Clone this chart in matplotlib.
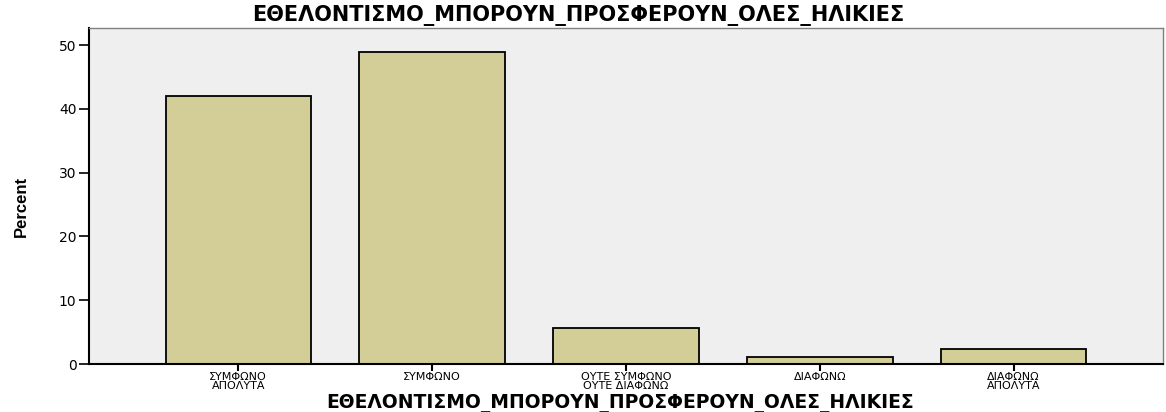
import matplotlib
matplotlib.use("Agg")
import matplotlib.pyplot as plt

categories = ["ΣΥΜΦΩΝΟ\nΑΠΟΛΥΤΑ", "ΣΥΜΦΩΝΟ", "ΟΥΤΕ ΣΥΜΦΩΝΟ\nΟΥΤΕ ΔΙΑΦΩΝΩ", "ΔΙΑΦΩΝΩ", "ΔΙΑΦΩΝΩ\nΑΠΟΛΥΤΑ"]
percent = [42.0, 48.9, 5.7, 1.1, 2.3]
yticks = [0, 10, 20, 30, 40, 50]
title = "ΕΘΕΛΟΝΤΙΣΜΟ_ΜΠΟΡΟΥΝ_ΠΡΟΣΦΕΡΟΥΝ_ΟΛΕΣ_ΗΛΙΚΙΕΣ"

fig = plt.figure(figsize=(11.66, 4.12), dpi=100)
ax = fig.add_axes([0.0763, 0.1165, 0.9211, 0.8155])
ax.set_facecolor("#efefef")

x = list(range(len(categories)))
ax.bar(x, percent, width=0.75, color="#d3ce97", edgecolor="black", linewidth=1.3, zorder=2)
ax.set_xlim(-0.77, 4.77)
ax.set_ylim(0, 52.7)
ax.set_yticks(yticks)
ax.set_yticklabels([str(t) for t in yticks], fontsize=10)
ax.set_xticks(x)
ax.set_xticklabels(categories, fontsize=8, linespacing=0.8)
ax.tick_params(axis="y", length=7, width=1.2, direction="out", pad=2)
ax.tick_params(axis="x", length=5, width=1.5, direction="out", pad=1)

for side in ("left", "bottom"):
    ax.spines[side].set_linewidth(1.5)
    ax.spines[side].set_color("black")
for side in ("top", "right"):
    ax.spines[side].set_linewidth(1.0)
    ax.spines[side].set_color("#808080")

fig.text(0.018, 0.5, "Percent", family=["Liberation Sans", "DejaVu Sans"],
         fontsize=12, fontweight="bold", rotation=90, ha="center", va="center")
fig.text(0.532, 0.009, title, ha="center", va="baseline", fontsize=13.5, fontweight="bold")
fig.text(0.496, 0.963, title, ha="center", va="center", fontsize=15, fontweight="bold")

plt.savefig("out.png", dpi=100)
